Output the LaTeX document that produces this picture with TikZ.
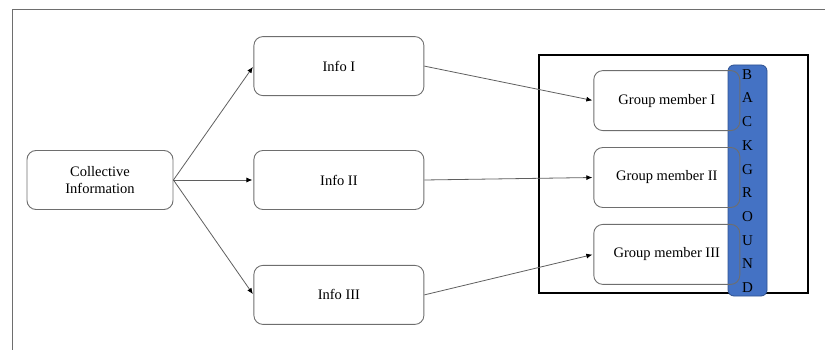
\documentclass[tikz,border=0pt]{standalone}
\usepackage{fontspec}
\setmainfont{Liberation Serif}
\usetikzlibrary{positioning,arrows.meta}

\definecolor{boxgrey}{RGB}{110,110,110}
\definecolor{linegrey}{RGB}{95,95,95}
\definecolor{bgblue}{RGB}{68,114,196}
\definecolor{bgedge}{RGB}{47,82,143}

\begin{document}
\begin{tikzpicture}[x=1pt,y=-1pt,>={Latex[black,length=6pt,width=5pt]},
                    info node/.style={rectangle,rounded corners=9pt,draw=boxgrey,line width=0.9pt,
                      minimum width=170pt,minimum height=59pt,align=center,
                      font=\fontsize{14.5}{17}\selectfont},
                    member node/.style={info node,minimum width=146pt,minimum height=60pt},
                    link/.style={every edge/.style={draw=linegrey,line width=0.8pt,->,shorten >=1pt}}]

  \useasboundingbox (0,0) rectangle (825,350);
  \draw[boxgrey,line width=1pt] (12,350) -- (12,10) -- (825,10);

  % left side
  \node[info node,minimum width=146pt] (coll) at (100,180) {Collective\\Information};
  \node[info node] (info2) [right=80pt of coll] {Info II};
  \node[info node] (info1) [above=54pt of info2] {Info I};
  \node[info node] (info3) [below=55pt of info2] {Info III};

  % group box and background bar
  \draw[black,line width=2pt] (539,55.5) rectangle (808,292.5);
  \draw[fill=bgblue,draw=bgedge,line width=0.8pt,rounded corners=6pt] (728,65) rectangle (767,296);

  \node[member node] (gm2) [right=169pt of info2,yshift=2.5pt] {Group member II};
  \node[member node] (gm1) [above=16pt of gm2] {Group member I};
  \node[member node] (gm3) [below=16pt of gm2] {Group member III};

  \foreach \ch [count=\k from 0] in {B,A,C,K,G,R,O,U,N,D}
    \node[anchor=base west,inner sep=0pt,font=\fontsize{15}{18}\selectfont] (bg\k)
      at (742,79.3+23.7*\k) {\ch};

  \path[link]
    (coll.east) edge (info1.west)
                edge (info2.west)
                edge (info3.west)
    (info1.east) edge (gm1.west)
    (info2.east) edge (gm2.west)
    (info3.east) edge (gm3.west);
\end{tikzpicture}
\end{document}
